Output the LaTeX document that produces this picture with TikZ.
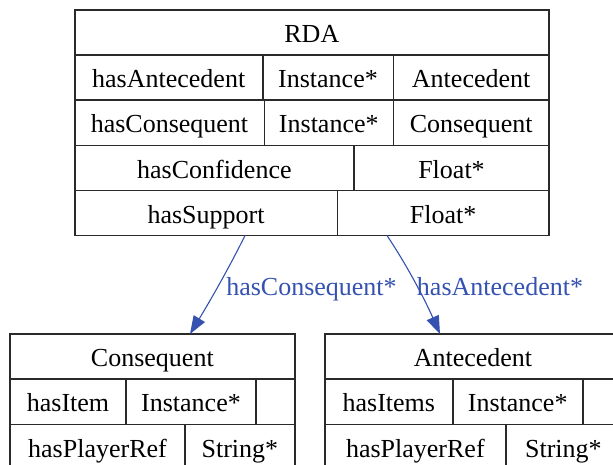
\documentclass[tikz,border=0pt]{standalone}
\usepackage{fontspec}
\setmainfont{Liberation Serif}
\usetikzlibrary{arrows.meta}
\definecolor{edgeblue}{HTML}{3552B0}
\definecolor{boxline}{HTML}{2A2A2A}
\tikzset{
  cell/.style={draw=boxline, line width=1.6pt, rectangle, inner sep=0pt, outer sep=0pt,
    font=\fontsize{26}{30}\selectfont, text=black, text height=23pt, text depth=2.6pt},
  rel/.style={draw=edgeblue, line width=1.1pt, -{Triangle[length=18pt,width=13pt]}},
  rellabel/.style={font=\fontsize{26}{30}\selectfont, text=edgeblue, inner sep=0pt,
    text height=23pt, text depth=2.6pt}
}
\newcommand{\cellat}[6]{% name, x0, x1, y0, y1, text
  \node[cell, minimum width={(#3)-(#2)}, minimum height={(#5)-(#4)}]
    (#1) at ({((#2)+(#3))/2},{((#4)+(#5))/2}) {#6};}
\begin{document}
\begin{tikzpicture}[x=1pt,y=-1pt]
\useasboundingbox (0,0) rectangle (613,465);
\clip (0,0) rectangle (613,465);
\fill[white] (0,0) rectangle (613,465);

% RDA record
\cellat{rda}{74.7}{549}{10}{55}{RDA}
\cellat{rdaAntP}{74.7}{262.7}{55}{100}{hasAntecedent}
\cellat{rdaAntT}{262.7}{393.3}{55}{100}{Instance*}
\cellat{rdaAntC}{393.3}{549}{55}{100}{Antecedent}
\cellat{rdaConP}{74.7}{264.3}{100}{145.5}{hasConsequent}
\cellat{rdaConT}{264.3}{393.3}{100}{145.5}{Instance*}
\cellat{rdaConC}{393.3}{549}{100}{145.5}{Consequent}
\cellat{rdaCfdP}{74.7}{354}{145.5}{190.5}{hasConfidence}
\cellat{rdaCfdT}{354}{549}{145.5}{190.5}{Float*}
\cellat{rdaSupP}{74.7}{337.3}{190.5}{235.5}{hasSupport}
\cellat{rdaSupT}{337.3}{549}{190.5}{235.5}{Float*}

% Consequent record
\cellat{con}{10}{294.7}{334}{379}{Consequent}
\cellat{conItemP}{10}{126}{379}{424.3}{hasItem}
\cellat{conItemT}{126}{256}{379}{424.3}{Instance*}
\cellat{conItemX}{256}{294.7}{379}{424.3}{}
\cellat{conRefP}{10}{185}{424.3}{470}{hasPlayerRef}
\cellat{conRefT}{185}{294.7}{424.3}{470}{String*}

% Antecedent record
\cellat{ant}{325}{621}{334}{379}{Antecedent}
\cellat{antItemP}{325}{452.7}{379}{424.3}{hasItems}
\cellat{antItemT}{452.7}{582.7}{379}{424.3}{Instance*}
\cellat{antItemX}{582.7}{621}{379}{424.3}{}
\cellat{antRefP}{325}{505.7}{424.3}{470}{hasPlayerRef}
\cellat{antRefT}{505.7}{621}{424.3}{470}{String*}

% relations
\draw[rel] ([xshift=39pt]rdaSupP.south) .. controls (229,268) and (210,301) .. ([xshift=37.65pt]con.north);
\draw[rel] ([xshift=-56.15pt]rdaSupT.south) .. controls (408,267) and (425,300) .. ([xshift=-33pt]ant.north);
\node[rellabel] (lblCon) at (311.5,285.5) {hasConsequent*};
\node[rellabel] (lblAnt) at (500,285.5) {hasAntecedent*};
\end{tikzpicture}
\end{document}
